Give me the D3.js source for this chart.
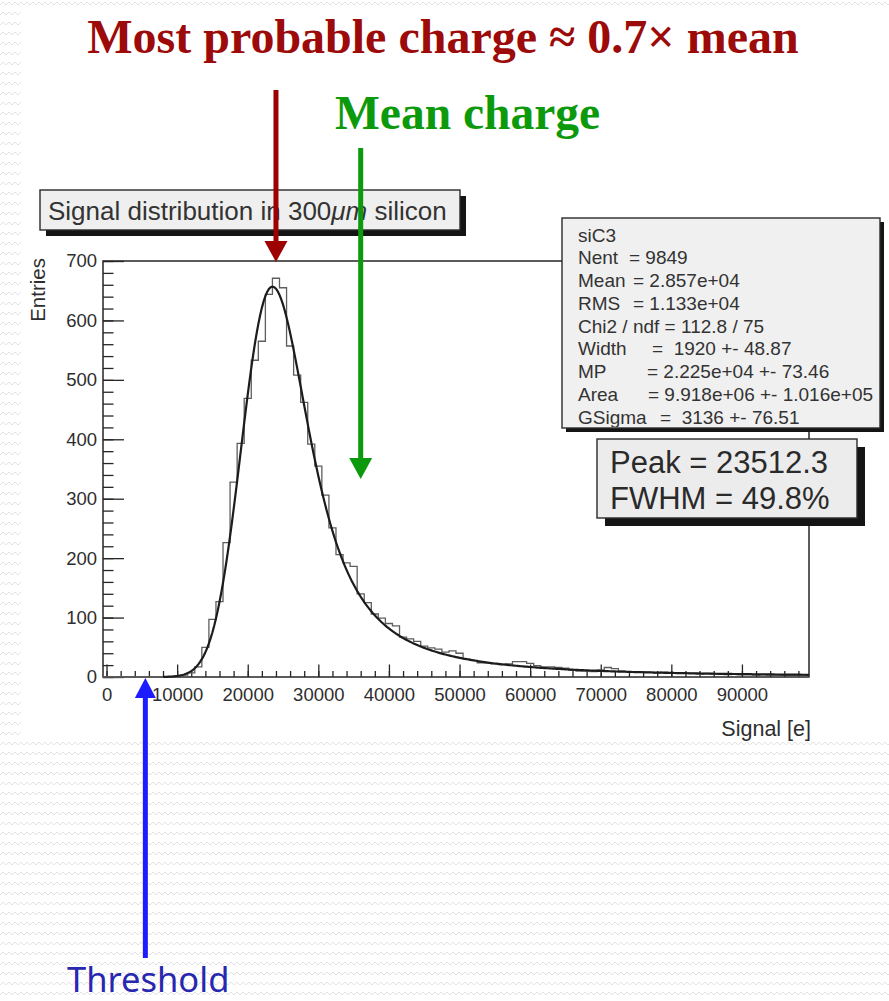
<!DOCTYPE html>
<html>
<head>
<meta charset="utf-8">
<script src="https://cdn.jsdelivr.net/npm/d3@7"></script>
<style>
  body { margin: 0; background: #fff; }
  svg { display: block; }
  text { white-space: pre; }
</style>
</head>
<body>
<svg id="c" width="889" height="1001"></svg>
<script>
// ---- Histogram: 100 bins of 1000 e, first edge at -500 e ----
const binLow = -500;
const binWidth = 1000;
const binCounts = [
  0, 0, 0, 0, 0, 0, 0, 0, 0, 0,
  1, 3, 7, 17, 50, 97, 127, 226, 328, 393,
  469, 533, 565, 644, 671, 655, 557, 508, 462, 392,
  355, 306, 251, 206, 192, 186, 140, 125, 106, 99,
  90, 86, 67, 64, 60, 52, 49, 47, 42, 44,
  40, 30, 28, 24, 24, 22, 21, 22, 26, 26,
  23, 19, 17, 17, 16, 15, 11, 10, 10, 9,
  12, 16, 14, 10, 9, 9, 8, 8, 7, 8,
  7, 6, 7, 6, 5, 6, 5, 5, 4, 5,
  4, 4, 3, 4, 3, 3, 3, 2, 2, 2
];

// ---- Axis ticks ----
const xTickValues = [0, 10000, 20000, 30000, 40000, 50000, 60000, 70000, 80000, 90000];
const yTickValues = [0, 100, 200, 300, 400, 500, 600, 700];

// ---- Landau (x) Gauss fit parameters ----
const fitWidth = 1920;
const fitMP = 22250;
const fitArea = 9.918e6;
const fitGSigma = 3136;

// ---- Text content ----
const histTitle = ["Signal distribution in 300", "\u03bcm", " silicon"];
const statsRows = [
  ["siC3", ""],
  ["Nent", "= 9849"],
  ["Mean", "= 2.857e+04"],
  ["RMS", "= 1.133e+04"],
  ["Chi2 / ndf = 112.8 / 75", ""],
  ["Width", "=  1920 +- 48.87"],
  ["MP", "= 2.225e+04 +- 73.46"],
  ["Area", "= 9.918e+06 +- 1.016e+05"],
  ["GSigma", "=  3136 +- 76.51"]
];
const peakLines = ["Peak = 23512.3", "FWHM = 49.8%"];
const headline = "Most probable charge \u2248 0.7\u00d7 mean";
const meanLabel = "Mean charge";
const thresholdLabel = "Threshold";
// Annotation arrow positions, in signal units
const mostProbableArrowAt = 24000;
const meanArrowAt = 36000;
const thresholdArrowAt = 5500;

// ---------------------------------------------------------------
const svg = d3.select("#c");
const sans = "'Liberation Sans', Arial, Helvetica, sans-serif";
const serif = "'Liberation Serif', 'Times New Roman', serif";

// Slide background with a faint zigzag texture, white chart panel on top
const defs = svg.append("defs");
const pat = defs.append("pattern").attr("id", "zz")
  .attr("width", 6).attr("height", 10).attr("patternUnits", "userSpaceOnUse");
pat.append("path").attr("d", "M0 5 L3 2 L6 5").attr("fill", "none")
  .attr("stroke", "#e2e2e2").attr("stroke-width", 1);
svg.append("rect").attr("width", 889).attr("height", 1001).attr("fill", "#fff");
svg.append("rect").attr("width", 889).attr("height", 1001).attr("fill", "url(#zz)");
svg.append("rect").attr("x", 21).attr("y", 6).attr("width", 868).attr("height", 733).attr("fill", "#fff");

// Scales
const x = d3.scaleLinear().domain([-500, 99500]).range([103, 809]);
const y = d3.scaleLinear().domain([0, 700]).range([677, 261]);

// Axes (ticks pointing into the frame)
const axisColor = "#262626";
const labelColor = "#2e2e2e";

function styleAxis(g) {
  g.select(".domain").remove();
  g.selectAll("line").attr("stroke", axisColor).attr("stroke-width", 1.3);
  g.selectAll("text").attr("fill", labelColor).attr("font-family", sans).attr("font-size", 18.5);
}

const xMinor = d3.range(0, 99500, 2000);
svg.append("g").attr("transform", `translate(0,${y(0)})`)
  .call(d3.axisBottom(x).tickValues(xMinor).tickSize(-6).tickFormat(""))
  .call(styleAxis);
svg.append("g").attr("transform", `translate(0,${y(0)})`)
  .call(d3.axisBottom(x).tickValues(xTickValues).tickSize(-12.5).tickPadding(11).tickFormat(d3.format("d")))
  .call(styleAxis);

const yMinor = d3.range(0, 701, 20);
svg.append("g").attr("transform", `translate(${x(-500)},0)`)
  .call(d3.axisLeft(y).tickValues(yMinor).tickSize(-10.5).tickFormat(""))
  .call(styleAxis);
svg.append("g").attr("transform", `translate(${x(-500)},0)`)
  .call(d3.axisLeft(y).tickValues(yTickValues).tickSize(-21).tickPadding(6).tickFormat(d3.format("d")))
  .call(styleAxis);

// Frame
svg.append("rect")
  .attr("x", x(-500)).attr("y", y(700))
  .attr("width", x(99500) - x(-500)).attr("height", y(0) - y(700))
  .attr("fill", "none").attr("stroke", axisColor).attr("stroke-width", 1.5);

// Axis titles
svg.append("text")
  .attr("transform", `translate(45,${y(700) - 3}) rotate(-90)`)
  .attr("text-anchor", "end")
  .attr("font-family", sans).attr("font-size", 20.5).attr("fill", labelColor)
  .text("Entries");
svg.append("text")
  .attr("x", x(99500) + 2).attr("y", 736)
  .attr("text-anchor", "end")
  .attr("font-family", sans).attr("font-size", 21.5).attr("fill", labelColor)
  .text("Signal [e]");

// Histogram outline
const histPts = binCounts.map((c, i) => [binLow + i * binWidth, c]);
histPts.push([binLow + binCounts.length * binWidth, binCounts[binCounts.length - 1]]);
svg.append("path")
  .datum(histPts)
  .attr("d", d3.line().x(d => x(d[0])).y(d => y(d[1])).curve(d3.curveStepAfter))
  .attr("fill", "none").attr("stroke", "#5e5e5e").attr("stroke-width", 1.3);

// Landau density (CERNLIB DENLAN approximation), unit width
function denlan(v) {
  const p1 = [0.4259894875, -0.1249762550, 0.03984243700, -0.006298287635, 0.001511162253];
  const q1 = [1.0, -0.3388260629, 0.09594393323, -0.01608042283, 0.003778942063];
  const p2 = [0.1788541609, 0.1173957403, 0.01488850518, -0.001394989411, 0.0001283617211];
  const q2 = [1.0, 0.7428795082, 0.3153932961, 0.06694219548, 0.008790609714];
  const p3 = [0.1788544503, 0.09359161662, 0.006325387654, 0.00006611667319, -0.000002031049101];
  const q3 = [1.0, 0.6097809921, 0.2560616665, 0.04746722384, 0.006957301675];
  const p4 = [0.9874054407, 118.6723273, 849.2794360, -743.7792444, 427.0262186];
  const q4 = [1.0, 106.8615961, 337.6496214, 2016.712389, 1597.063511];
  const p5 = [1.003675074, 167.5702434, 4789.711289, 21217.86767, -22324.94910];
  const q5 = [1.0, 156.9424537, 3745.310488, 9834.698876, 66924.28357];
  const p6 = [1.000827619, 664.9143136, 62972.92665, 475554.6998, -5743609.109];
  const q6 = [1.0, 651.4101098, 56974.73333, 165917.4725, -2815759.939];
  const a1 = [0.04166666667, -0.01996527778, 0.02709538966];
  const a2 = [-1.845568670, -4.284640743];
  const poly = (c, t) => c[0] + (c[1] + (c[2] + (c[3] + c[4] * t) * t) * t) * t;
  let u;
  if (v < -5.5) {
    u = Math.exp(v + 1.0);
    if (u < 1e-10) return 0;
    const ue = Math.exp(-1 / u), us = Math.sqrt(u);
    return 0.3989422803 * (ue / us) * (1 + (a1[0] + (a1[1] + a1[2] * u) * u) * u);
  } else if (v < -1) {
    u = Math.exp(-v - 1);
    return Math.exp(-u) * Math.sqrt(u) * poly(p1, v) / poly(q1, v);
  } else if (v < 1) {
    return poly(p2, v) / poly(q2, v);
  } else if (v < 5) {
    return poly(p3, v) / poly(q3, v);
  } else if (v < 12) {
    u = 1 / v; return u * u * poly(p4, u) / poly(q4, u);
  } else if (v < 50) {
    u = 1 / v; return u * u * poly(p5, u) / poly(q5, u);
  } else if (v < 300) {
    u = 1 / v; return u * u * poly(p6, u) / poly(q6, u);
  }
  u = 1 / (v - v * Math.log(v) / (v + 1));
  return u * u * (1 + (a2[0] + a2[1] * u) * u);
}

// Landau convolved with a Gaussian, in entries per bin
function langaus(xv) {
  const mpshift = -0.22278298, np = 100, sc = 5;
  const mpc = fitMP - mpshift * fitWidth;
  const xlow = xv - sc * fitGSigma, xupp = xv + sc * fitGSigma;
  const step = (xupp - xlow) / np;
  const gaus = (a, m, s) => Math.exp(-0.5 * ((a - m) / s) ** 2);
  let sum = 0;
  for (let i = 1; i <= np / 2; i++) {
    let xx = xlow + (i - 0.5) * step;
    sum += denlan((xx - mpc) / fitWidth) / fitWidth * gaus(xv, xx, fitGSigma);
    xx = xupp - (i - 0.5) * step;
    sum += denlan((xx - mpc) / fitWidth) / fitWidth * gaus(xv, xx, fitGSigma);
  }
  return fitArea * step * sum * 0.3989422804014 / fitGSigma;
}

const fitPts = d3.range(8000, 99501, 250).map(v => [v, langaus(v)]);
svg.append("path")
  .datum(fitPts)
  .attr("d", d3.line().x(d => x(d[0])).y(d => y(d[1])).curve(d3.curveLinear))
  .attr("fill", "none").attr("stroke", "#1c1c1c").attr("stroke-width", 2.2);

// Boxes with drop shadow
function pave(x0, y0, w, h, shadow, fill) {
  const g = svg.append("g");
  g.append("rect").attr("x", x0 + shadow).attr("y", y0 + shadow)
    .attr("width", w).attr("height", h).attr("fill", "#141414");
  g.append("rect").attr("x", x0).attr("y", y0).attr("width", w).attr("height", h)
    .attr("fill", fill).attr("stroke", "#2a2a2a").attr("stroke-width", 1.4);
  return g;
}

// Histogram title box
const tBox = pave(40, 190, 420, 40, 6, "#efefef");
const tText = tBox.append("text").attr("x", 48).attr("y", 220)
  .attr("font-family", sans).attr("font-size", 26).attr("fill", "#333");
tText.append("tspan").text(histTitle[0]);
tText.append("tspan").attr("font-style", "italic").text(histTitle[1]);
tText.append("tspan").text(histTitle[2]);

// Statistics box
const sx = 562, sy = 218, sw = 318, sh = 210;
const sBox = pave(sx, sy, sw, sh, 4, "#f0f0f0");
defs.append("clipPath").attr("id", "statsClip")
  .append("rect").attr("x", sx).attr("y", sy).attr("width", sw).attr("height", sh - 1);
const statsG = sBox.append("g").attr("clip-path", "url(#statsClip)")
  .attr("font-family", sans).attr("font-size", 19).attr("fill", "#333");
const valueX = [0, 629, 633, 633, 0, 652, 647, 648, 660];
statsRows.forEach((r, i) => {
  const by = 241.5 + i * 22.75;
  statsG.append("text").attr("x", 578).attr("y", by).text(r[0]);
  if (r[1]) statsG.append("text").attr("x", valueX[i]).attr("y", by).text(r[1]);
});

// Peak / FWHM box
const pBox = pave(597, 439, 260, 79, 8, "#ececec");
peakLines.forEach((t, i) => {
  pBox.append("text").attr("x", 610).attr("y", 473 + i * 35.5)
    .attr("font-family", sans).attr("font-size", 31).attr("fill", "#2a2a2a").text(t);
});

// Annotation arrows
function arrow(xc, yTail, yTip, color, lw, headLen, headHalf) {
  const dir = Math.sign(yTip - yTail);
  const base = yTip - dir * headLen;
  svg.append("line").attr("x1", xc).attr("x2", xc).attr("y1", yTail).attr("y2", base)
    .attr("stroke", color).attr("stroke-width", lw);
  svg.append("path")
    .attr("d", `M${xc - headHalf},${base} L${xc + headHalf},${base} L${xc},${yTip} Z`)
    .attr("fill", color);
}
arrow(x(mostProbableArrowAt), 90, y(700) + 1, "#9c0000", 5, 21, 11.5);
arrow(x(meanArrowAt), 148, 479, "#0c990c", 5, 21, 11.5);
arrow(x(thresholdArrowAt), 958, y(0) + 1, "#1c1cff", 5, 20, 10.5);

// Slide headings
svg.append("text").attr("x", 443).attr("y", 53).attr("text-anchor", "middle")
  .attr("font-family", serif).attr("font-weight", "bold").attr("font-size", 48)
  .attr("fill", "#9c0a0a").text(headline);
svg.append("text").attr("x", 335).attr("y", 129)
  .attr("font-family", serif).attr("font-weight", "bold").attr("font-size", 47.5)
  .attr("fill", "#0c9a0c").text(meanLabel);
svg.append("text").attr("x", 67).attr("y", 992)
  .attr("font-family", "'Noto Sans', 'Liberation Sans', sans-serif").attr("font-size", 34.5)
  .attr("fill", "#2727b0").text(thresholdLabel);
</script>
</body>
</html>
